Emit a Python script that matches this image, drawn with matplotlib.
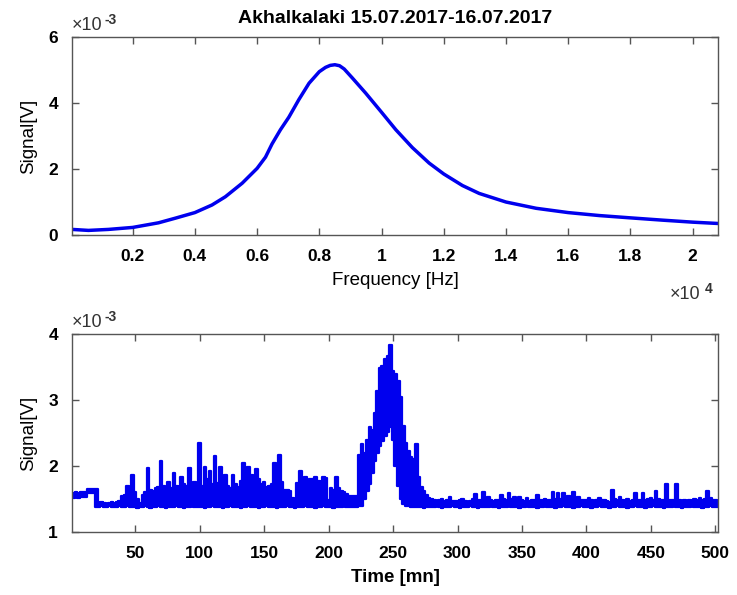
import numpy as np
import matplotlib
matplotlib.use("Agg")
import matplotlib.pyplot as plt
from matplotlib.ticker import FuncFormatter

# ---------------- data ----------------
title = "Akhalkalaki 15.07.2017-16.07.2017"

# top panel: spectrum (frequency in Hz, signal in 1e-3 V)
freq_hz = [50, 580, 1220, 2000, 2830, 3370, 4000, 4550, 4980, 5520, 6000, 6270,
           6480, 6750, 7020, 7340, 7670, 8000, 8200, 8350, 8500, 8650, 8800,
           9060, 9490, 10000, 10460, 10990, 11530, 12000, 12600, 13140, 14000,
           14970, 16000, 17000, 18000, 19040, 20000, 20815]
spec_mv = [0.17, 0.14, 0.17, 0.23, 0.37, 0.51, 0.68, 0.91, 1.16, 1.57, 2.02, 2.36,
           2.76, 3.19, 3.57, 4.10, 4.60, 4.95, 5.08, 5.14, 5.16, 5.13, 5.03,
           4.76, 4.30, 3.72, 3.19, 2.65, 2.18, 1.85, 1.50, 1.26, 1.00,
           0.81, 0.68, 0.59, 0.52, 0.45, 0.39, 0.35]
freq_ticks = [0.2, 0.4, 0.6, 0.8, 1.0, 1.2, 1.4, 1.6, 1.8, 2.0]

# bottom panel: time series envelope (time in minutes, signal in 1e-3 V)
time_min = np.arange(0, 503, 2)
sig_upper = [
    1.60, 1.59, 1.60, 1.59, 1.60, 1.60, 1.60, 1.65, 1.65, 1.65,
    1.65, 1.44, 1.45, 1.44, 1.43, 1.44, 1.45, 1.44, 1.45, 1.47,
    1.55, 1.56, 1.69, 1.58, 1.87, 1.60, 1.50, 1.44, 1.56, 1.60,
    1.97, 1.64, 1.62, 1.66, 1.68, 2.08, 1.70, 1.64, 1.76, 1.66,
    1.89, 1.70, 1.68, 1.84, 1.72, 1.70, 1.97, 1.68, 1.76, 1.66,
    2.35, 1.70, 1.98, 1.80, 1.93, 1.72, 2.15, 1.74, 1.98, 1.72,
    1.86, 1.70, 1.66, 1.86, 1.72, 1.68, 1.78, 2.05, 1.76, 1.98,
    1.86, 1.74, 1.95, 1.80, 1.72, 1.76, 1.68, 1.70, 1.72, 2.05,
    1.72, 2.16, 1.76, 1.64, 1.63, 1.62, 1.52, 1.46, 1.74, 1.92,
    1.78, 1.84, 1.76, 1.81, 1.80, 1.84, 1.78, 1.76, 1.83, 1.82,
    1.48, 1.66, 1.64, 1.83, 1.66, 1.62, 1.60, 1.58, 1.55, 1.55,
    1.55, 1.54, 2.16, 2.34, 2.20, 2.40, 2.59, 2.54, 2.80, 3.14,
    3.49, 3.52, 3.62, 3.67, 3.84, 3.44, 3.40, 3.28, 3.05, 2.60,
    2.35, 2.22, 2.14, 2.10, 2.34, 1.83, 1.68, 1.62, 1.56, 1.52,
    1.50, 1.48, 1.47, 1.49, 1.50, 1.47, 1.48, 1.53, 1.47, 1.47,
    1.47, 1.48, 1.50, 1.47, 1.46, 1.47, 1.50, 1.58, 1.49, 1.48,
    1.61, 1.50, 1.53, 1.48, 1.47, 1.48, 1.48, 1.56, 1.50, 1.48,
    1.59, 1.50, 1.53, 1.48, 1.53, 1.49, 1.47, 1.51, 1.47, 1.48,
    1.48, 1.56, 1.49, 1.48, 1.50, 1.48, 1.49, 1.61, 1.50, 1.59,
    1.50, 1.59, 1.50, 1.55, 1.49, 1.61, 1.50, 1.53, 1.49, 1.48,
    1.48, 1.51, 1.48, 1.47, 1.49, 1.52, 1.48, 1.48, 1.47, 1.46,
    1.63, 1.50, 1.48, 1.53, 1.48, 1.47, 1.50, 1.47, 1.48, 1.59,
    1.49, 1.48, 1.59, 1.49, 1.50, 1.52, 1.49, 1.62, 1.50, 1.48,
    1.49, 1.72, 1.49, 1.48, 1.49, 1.72, 1.48, 1.47, 1.48, 1.47,
    1.49, 1.47, 1.50, 1.48, 1.52, 1.49, 1.50, 1.62, 1.52, 1.49,
    1.48, 1.47]
sig_lower = [
    1.53, 1.52, 1.53, 1.52, 1.53, 1.53, 1.53, 1.59, 1.59, 1.59,
    1.38, 1.38, 1.39, 1.38, 1.38, 1.39, 1.38, 1.38, 1.38, 1.39,
    1.38, 1.38, 1.39, 1.38, 1.38, 1.38, 1.37, 1.38, 1.38, 1.39,
    1.38, 1.37, 1.38, 1.38, 1.39, 1.38, 1.38, 1.37, 1.38, 1.38,
    1.38, 1.39, 1.38, 1.38, 1.37, 1.38, 1.38, 1.39, 1.38, 1.38,
    1.38, 1.38, 1.37, 1.38, 1.38, 1.39, 1.38, 1.38, 1.38, 1.37,
    1.38, 1.38, 1.39, 1.38, 1.38, 1.38, 1.37, 1.38, 1.38, 1.39,
    1.38, 1.38, 1.38, 1.37, 1.38, 1.38, 1.39, 1.38, 1.38, 1.38,
    1.37, 1.38, 1.38, 1.38, 1.39, 1.38, 1.38, 1.37, 1.38, 1.38,
    1.38, 1.39, 1.38, 1.38, 1.38, 1.37, 1.38, 1.38, 1.39, 1.38,
    1.38, 1.38, 1.37, 1.38, 1.38, 1.38, 1.39, 1.38, 1.38, 1.38,
    1.38, 1.38, 1.39, 1.40, 1.50, 1.62, 1.72, 1.90, 2.08, 2.20,
    2.30, 2.38, 2.45, 2.52, 2.59, 2.40, 2.00, 1.70, 1.50, 1.42,
    1.40, 1.39, 1.38, 1.38, 1.38, 1.38, 1.38, 1.37, 1.38, 1.38,
    1.38, 1.38, 1.39, 1.38, 1.37, 1.38, 1.38, 1.38, 1.39, 1.38,
    1.38, 1.37, 1.38, 1.38, 1.38, 1.39, 1.38, 1.38, 1.37, 1.38,
    1.38, 1.38, 1.38, 1.39, 1.38, 1.38, 1.37, 1.38, 1.38, 1.38,
    1.39, 1.38, 1.38, 1.38, 1.37, 1.38, 1.38, 1.39, 1.38, 1.38,
    1.38, 1.37, 1.38, 1.38, 1.39, 1.38, 1.38, 1.38, 1.37, 1.38,
    1.38, 1.39, 1.38, 1.38, 1.38, 1.37, 1.38, 1.38, 1.39, 1.38,
    1.38, 1.38, 1.37, 1.38, 1.38, 1.39, 1.38, 1.38, 1.38, 1.37,
    1.38, 1.38, 1.39, 1.38, 1.38, 1.38, 1.37, 1.38, 1.38, 1.39,
    1.38, 1.38, 1.38, 1.37, 1.38, 1.38, 1.39, 1.38, 1.38, 1.38,
    1.37, 1.38, 1.38, 1.38, 1.39, 1.38, 1.38, 1.37, 1.38, 1.38,
    1.38, 1.39, 1.38, 1.38, 1.38, 1.37, 1.38, 1.38, 1.39, 1.38,
    1.38, 1.38]
time_ticks = [50, 100, 150, 200, 250, 300, 350, 400, 450, 500]

# ---------------- style ----------------
FAM = ["Liberation Sans", "DejaVu Sans"]
plt.rcParams["font.family"] = FAM
BLUE = "#0000ee"
SPINE = "#555555"
TICK_FS = 12.5

fig = plt.figure(figsize=(7.37, 5.95), dpi=100)
ax1 = fig.add_axes([0.0977, 0.605, 0.8765, 0.3328])
ax2 = fig.add_axes([0.0977, 0.1059, 0.8765, 0.3328])

fmt = FuncFormatter(lambda v, p: "%g" % round(v, 6))

def style(ax):
    for s in ax.spines.values():
        s.set_color(SPINE)
        s.set_linewidth(1.0)
    ax.tick_params(direction="in", top=True, right=True, length=5,
                   width=1.0, color=SPINE, labelsize=TICK_FS, pad=10)
    for lab in ax.get_xticklabels() + ax.get_yticklabels():
        lab.set_fontweight("bold")
    ax.xaxis.set_major_formatter(fmt)
    ax.yaxis.set_major_formatter(fmt)

def exponent(ax, x, y, power, dx):
    ax.text(x, y, "\u00d710", transform=ax.transAxes, fontsize=13,
            ha="left", va="bottom", color="#333333")
    ax.text(x + dx, y + 0.035, power, transform=ax.transAxes, fontsize=10,
            ha="left", va="bottom", color="#333333", fontweight="bold")

# top panel
ax1.plot(np.array(freq_hz) / 1e4, spec_mv, color=BLUE, lw=2.5,
         solid_joinstyle="round", solid_capstyle="round")
ax1.set_xlim(freq_hz[0] / 1e4, freq_hz[-1] / 1e4)
ax1.set_ylim(0, 6)
ax1.set_xticks(freq_ticks)
ax1.set_yticks([0, 2, 4, 6])
style(ax1)
ax1.set_xlabel("Frequency [Hz]", fontsize=13.5, labelpad=6)
ax1.set_ylabel("Signal[V]", fontsize=13.5, labelpad=8)
ax1.set_title(title, fontsize=14, fontweight="bold", pad=10)
exponent(ax1, 0.0, 1.015, "-3", 0.05)
exponent(ax1, 0.925, -0.345, "4", 0.055)

# bottom panel
ax2.fill_between(time_min, sig_lower, sig_upper, step="mid", color=BLUE,
                 lw=0)
ax2.plot(time_min, sig_upper, drawstyle="steps-mid", color=BLUE, lw=1.6)
ax2.plot(time_min, sig_lower, drawstyle="steps-mid", color=BLUE, lw=1.6)
ax2.set_xlim(1, 502)
ax2.set_ylim(1, 4)
ax2.set_xticks(time_ticks)
ax2.set_yticks([1, 2, 3, 4])
style(ax2)
ax2.set_xlabel("Time [mn]", fontsize=13.5, fontweight="bold", labelpad=6)
ax2.set_ylabel("Signal[V]", fontsize=13.5, labelpad=8)
exponent(ax2, 0.0, 1.015, "-3", 0.05)

fig.savefig("out.png", dpi=100)
